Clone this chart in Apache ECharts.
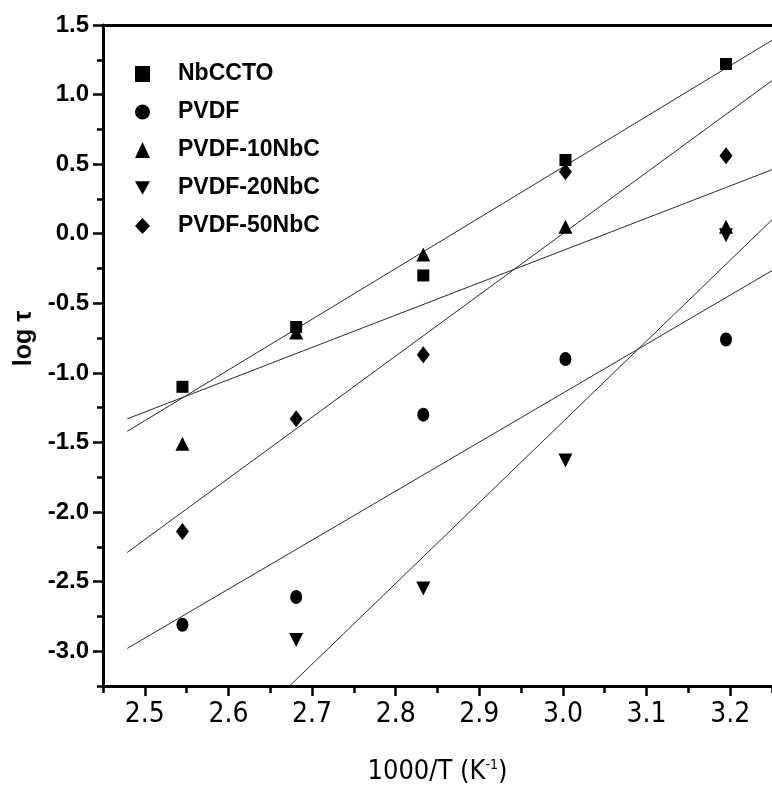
<!DOCTYPE html>
<html>
<head>
<meta charset="utf-8">
<script src="https://cdn.jsdelivr.net/npm/echarts@6/dist/echarts.min.js"></script>
<style>html,body{margin:0;padding:0;background:#fff}#c{width:772px;height:795px}</style>
</head>
<body>
<div id="c"></div>
<script>
// 1000/T positions of the measurements
const xVals = [2.545, 2.681, 2.833, 3.003, 3.195];
// log tau values
const nbccto = [-1.10, -0.67, -0.30, 0.53, 1.22];
const pvdf = [-2.81, -2.61, -1.30, -0.90, -0.76];
const pvdf10 = [-1.51, -0.71, -0.15, 0.05, 0.05];
const pvdf20 = [null, -2.92, -2.55, -1.63, -0.01];
const pvdf50 = [-2.14, -1.33, -0.87, 0.445, 0.56];

// fitted lines, read as end points
const fitNbCCTO_x = [2.479, 3.25], fitNbCCTO_y = [-1.42, 1.39];
const fitPVDF_x = [2.479, 3.25], fitPVDF_y = [-2.98, -0.265];
const fit10_x = [2.479, 3.25], fit10_y = [-1.33, 0.46];
const fit20_x = [2.673, 3.25], fit20_y = [-3.25, 0.10];
const fit50_x = [2.479, 3.25], fit50_y = [-2.29, 1.10];

const seriesNames = ['NbCCTO', 'PVDF', 'PVDF-10NbC', 'PVDF-20NbC', 'PVDF-50NbC'];
const xTickLabels = ['2.5','2.6','2.7','2.8','2.9','3.0','3.1','3.2'];

const xMin = 2.45, xMax = 3.25, yMin = -3.25, yMax = 1.5;

function pts(xs, ys) { const r = []; for (let i = 0; i < xs.length; i++) if (ys[i] !== null) r.push([xs[i], ys[i]]); return r; }

const chart = echarts.init(document.getElementById('c'), null, {renderer: 'canvas'});
const FONT = '"Liberation Sans", Arial, sans-serif';
const NARROW = '"Liberation Sans Narrow", "Arial Narrow", "DejaVu Sans Condensed", "Liberation Sans", sans-serif';
const lineAx = {show: true, onZero: false, lineStyle: {color: '#000', width: 3}};
const DOWN_TRI = 'path://M0,0 L10,0 L5,9 Z';

const scatterBase = {type: 'scatter', itemStyle: {color: '#000', opacity: 1}, z: 5};
const fitBase = {type: 'line', symbol: 'none', silent: true, lineStyle: {color: '#2a2a2a', width: 1}, z: 3, clip: true};

chart.setOption({
  backgroundColor: '#fff',
  animation: false,
  grid: {left: 103, top: 25, right: -8, bottom: 109, containLabel: false},
  legend: {
    data: seriesNames, orient: 'vertical', left: 130, top: 57,
    itemWidth: 15, itemHeight: 16, itemGap: 14,
    itemStyle: {opacity: 1},
    textStyle: {fontFamily: FONT, fontWeight: 'bold', fontSize: 23, color: '#000', lineHeight: 24, padding: [0, 0, 0, 23]}
  },
  xAxis: [
    {type: 'value', min: xMin, max: xMax, minInterval: 0.1, maxInterval: 0.1, position: 'bottom',
     axisLine: lineAx, splitLine: {show: false},
     axisTick: {show: true, length: 10, lineStyle: {color: '#000', width: 2.5}},
     axisLabel: {show: true, showMinLabel: false, showMaxLabel: false, margin: 15, fontFamily: NARROW, fontSize: 28, color: '#000',
       formatter: v => { const s = v.toFixed(1); return xTickLabels.indexOf(s) >= 0 ? s : ''; }},
     name: '1000/T (K{sup|-1})', nameLocation: 'middle', nameGap: 72,
     nameTextStyle: {fontFamily: NARROW, fontSize: 27, color: '#000', rich: {sup: {fontFamily: NARROW, fontSize: 14, color: '#000', padding: [0, 0, 14, 0]}}}},
    {type: 'value', min: xMin, max: xMax, interval: 0.05, position: 'bottom',
     axisLine: {show: false, onZero: false}, splitLine: {show: false}, axisLabel: {show: false},
     axisTick: {show: true, length: 7, lineStyle: {color: '#000', width: 2.5}}},
    {type: 'value', min: xMin, max: xMax, position: 'top',
     axisLine: lineAx, splitLine: {show: false}, axisLabel: {show: false}, axisTick: {show: false}}
  ],
  yAxis: [
    {type: 'value', min: yMin, max: yMax, minInterval: 0.5, maxInterval: 0.5, position: 'left',
     axisLine: lineAx, splitLine: {show: false},
     axisTick: {show: true, length: 10, lineStyle: {color: '#000', width: 2.5}},
     axisLabel: {show: true, showMinLabel: false, margin: 14, fontFamily: FONT, fontWeight: 'bold', fontSize: 24, color: '#000',
       formatter: v => (Math.abs(v * 2 - Math.round(v * 2)) < 1e-6) ? v.toFixed(1) : ''},
     name: 'log τ', nameLocation: 'middle', nameRotate: 90, nameGap: 66,
     nameTextStyle: {fontFamily: FONT, fontWeight: 'bold', fontSize: 25, color: '#000', padding: [0, 0, 0, 34]}},
    {type: 'value', min: yMin, max: yMax, interval: 0.25, position: 'left',
     axisLine: {show: false, onZero: false}, splitLine: {show: false}, axisLabel: {show: false},
     axisTick: {show: true, length: 6, lineStyle: {color: '#000', width: 2.5}}}
  ],
  series: [
    Object.assign({}, fitBase, {name: 'fit NbCCTO', data: pts(fitNbCCTO_x, fitNbCCTO_y)}),
    Object.assign({}, fitBase, {name: 'fit PVDF', data: pts(fitPVDF_x, fitPVDF_y)}),
    Object.assign({}, fitBase, {name: 'fit PVDF-10NbC', data: pts(fit10_x, fit10_y)}),
    Object.assign({}, fitBase, {name: 'fit PVDF-20NbC', data: pts(fit20_x, fit20_y)}),
    Object.assign({}, fitBase, {name: 'fit PVDF-50NbC', data: pts(fit50_x, fit50_y)}),
    Object.assign({}, scatterBase, {name: 'NbCCTO', symbol: 'rect', symbolSize: 12, data: pts(xVals, nbccto)}),
    Object.assign({}, scatterBase, {name: 'PVDF', symbol: 'circle', symbolSize: [12, 14], data: pts(xVals, pvdf)}),
    Object.assign({}, scatterBase, {name: 'PVDF-10NbC', symbol: 'triangle', symbolSize: 14, data: pts(xVals, pvdf10)}),
    Object.assign({}, scatterBase, {name: 'PVDF-20NbC', symbol: DOWN_TRI, symbolSize: 14, data: pts(xVals, pvdf20)}),
    Object.assign({}, scatterBase, {name: 'PVDF-50NbC', symbol: 'diamond', symbolSize: [13, 17], data: pts(xVals, pvdf50)})
  ]
});
</script>
</body>
</html>
